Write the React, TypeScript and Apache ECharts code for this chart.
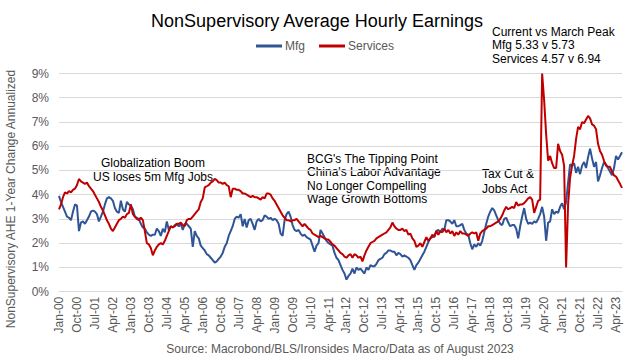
import React, { useEffect, useRef } from "react";
import * as echarts from "echarts";

const YEARS = [2000, 2001, 2002, 2003, 2004, 2005, 2006, 2007, 2008, 2009, 2010, 2011, 2012, 2013, 2014, 2015, 2016, 2017, 2018, 2019, 2020, 2021, 2022, 2023];
const MONTHS = ["Jan", "Feb", "Mar", "Apr", "May", "Jun", "Jul", "Aug", "Sep", "Oct", "Nov", "Dec"];
const LAST_MONTH_2023 = 7; // data through Jul-23

const mfgValues = [
  3.95, 3.7, 3.5, 3.3, 3.1, 3.05, 2.95, 3.3, 3.6, 3.55, 2.5, 2.85,
  2.9, 2.8, 2.95, 3.1, 3.3, 3.35, 3.3, 3.2, 2.9, 3.1, 3.3, 3.6,
  3.85, 3.9, 3.85, 3.75, 3.45, 3.3, 3.25, 3.75, 3.4, 3.3, 3.7, 3.6,
  3.55, 3.4, 3.1, 3.05, 3.0, 2.8, 2.65, 2.6, 2.45, 2.35, 2.3, 2.35,
  2.35, 2.6, 2.5, 2.3, 2.6, 2.45, 2.9, 2.55, 2.7, 2.65, 2.75, 2.8,
  2.7, 2.8, 2.55, 2.8, 2.8, 2.7, 2.6, 1.85, 2.5, 2.3, 2.2, 1.9,
  1.8, 1.7, 1.55, 1.5, 1.4, 1.3, 1.2, 1.25, 1.35, 1.45, 1.6, 1.85,
  2.0, 2.3, 2.5, 2.7, 3.0, 3.1, 3.05, 3.2, 2.7, 3.0, 2.65, 2.95,
  3.0, 2.8, 2.55, 2.9, 3.0, 2.9, 2.95, 3.15, 3.1, 3.0, 3.05, 2.95,
  3.0, 2.95, 2.8, 2.4, 2.3, 2.95, 3.2, 3.3, 3.1, 2.75, 2.55, 2.5,
  2.55, 2.4, 2.3, 2.35, 2.25, 2.2, 2.15, 1.9, 1.65, 1.9, 2.0, 2.55,
  2.4, 2.25, 2.1, 2.0, 1.95, 1.9, 1.6, 1.4, 1.3, 1.1, 0.9, 0.75,
  0.5, 0.65, 0.75, 0.95, 0.75, 1.0, 0.9, 0.95, 0.85, 0.75, 1.0, 0.9,
  1.1, 1.05, 1.05, 1.15, 1.3, 1.35, 1.4, 1.55, 1.6, 1.7, 1.7, 1.65,
  1.65, 1.5, 1.6, 1.55, 1.45, 1.5, 1.45, 1.4, 1.3, 1.1, 0.9, 1.1,
  1.2, 1.35, 1.5, 1.65, 1.85, 2.05, 2.2, 2.25, 2.3, 2.5, 2.55, 2.45,
  2.6, 2.55, 2.95, 2.95, 2.9, 2.8, 2.95, 2.7, 2.7, 2.75, 2.8, 2.55,
  2.4, 2.35, 2.0, 1.75, 1.95, 1.85, 2.0, 1.9, 2.1, 2.45, 2.8, 3.1,
  3.3, 3.45, 3.35, 3.15, 2.95, 2.8, 2.75, 3.0, 3.05, 2.85, 2.7, 2.75,
  2.75, 2.6, 2.2, 2.7, 3.1, 3.45, 3.0, 2.8, 2.85, 2.8, 2.9, 2.85,
  3.0, 3.2, 3.5, 3.1, 2.1, 2.85, 2.9, 3.4, 3.2, 3.3, 3.25, 3.5,
  3.65, 3.4, 3.7, 4.5, 5.25, 5.2, 5.3, 4.9, 5.15, 4.85, 5.2, 5.35,
  5.1, 5.55, 5.9, 5.5, 5.15, 5.35, 4.55, 4.8, 5.1, 5.35, 5.25, 5.1,
  4.95, 4.8, 5.1, 5.6, 5.45, 5.6, 5.75,
];

const servicesValues = [
  3.4, 3.6, 3.9, 4.1, 4.05, 4.15, 4.1, 4.2, 4.25, 4.4, 4.65, 4.55,
  4.5, 4.45, 4.5, 4.35, 4.25, 4.15, 4.0, 3.85, 3.7, 3.5, 3.35, 3.15,
  2.95, 2.8, 2.6, 2.5, 2.65, 2.8, 2.95, 3.0, 3.1, 3.05, 3.2, 3.25,
  3.6, 3.2, 3.1, 3.0, 2.95, 3.05, 2.95, 2.5, 2.0, 1.95, 1.8, 1.5,
  1.7, 1.85, 1.95, 2.0, 1.95, 2.1, 2.3, 2.5, 2.7, 2.65, 2.7, 2.8,
  2.8, 2.85, 2.75, 2.7, 2.95, 3.0, 3.0, 3.1, 3.2, 3.3, 3.4, 3.7,
  3.85, 4.3, 4.35, 4.4, 4.5, 4.55, 4.65, 4.6, 4.5, 4.5, 4.45, 4.5,
  4.4, 4.35, 3.9, 4.25, 4.25, 4.2, 4.2, 4.15, 4.05, 4.05, 4.0, 3.95,
  3.9, 3.95, 3.9, 3.9, 3.85, 3.8, 3.9, 3.85, 4.05, 4.05, 4.0, 3.85,
  3.75, 3.6, 3.45, 3.3, 3.15, 3.05, 2.95, 2.95, 2.9, 2.95, 2.95, 3.0,
  2.9, 2.8, 2.7, 2.8, 2.7, 2.6, 2.55, 2.4, 2.35, 2.3, 2.25, 2.3,
  2.25, 2.2, 2.15, 2.15, 2.05, 1.95, 1.9, 1.8, 1.7, 1.6, 1.55, 1.45,
  1.4, 1.5, 1.55, 1.4, 1.55, 1.5, 1.4, 1.45, 1.25, 1.5, 1.7, 1.85,
  2.0, 2.05, 2.1, 2.2, 2.25, 2.3, 2.35, 2.4, 2.45, 2.55, 2.65, 2.85,
  2.7, 2.6, 2.55, 2.55, 2.6, 2.5, 2.55, 2.35, 2.4, 2.2, 2.1, 1.85,
  1.9, 2.0, 1.85, 2.05, 2.25, 2.1, 2.2, 2.35, 2.25, 2.5, 2.35, 2.5,
  2.45, 2.6, 2.45, 2.55, 2.4, 2.5, 2.3, 2.45, 2.35, 2.5, 2.4, 2.4,
  2.35, 2.3, 2.4, 2.45, 2.4, 2.45, 2.1, 2.4, 2.5, 2.55, 2.6, 2.7,
  2.7, 2.75, 2.8, 2.85, 2.9, 3.0, 3.15, 3.35, 3.5, 3.4, 3.45, 3.5,
  3.45, 3.7, 3.55, 3.6, 3.6, 3.65, 3.75, 3.85, 3.9, 3.8, 3.25, 3.5,
  3.75, 3.8, 9.0, 7.9, 6.5, 5.4, 5.6, 5.3, 5.1, 5.1, 6.1, 5.8,
  5.65, 5.2, 1.0, 3.6, 4.7, 5.2, 5.6, 6.3, 6.8, 6.7, 7.0, 6.95,
  7.1, 7.25, 7.15, 6.9, 6.85, 6.7, 6.1, 5.8, 5.65, 5.4, 5.2, 5.15,
  5.15, 4.95, 4.8, 4.75, 4.6, 4.45, 4.28,
];

const yTicks = [0, 1, 2, 3, 4, 5, 6, 7, 8, 9];

const categories: string[] = [];
YEARS.forEach((y) => {
  MONTHS.forEach((m, i) => {
    if (y === 2023 && i >= LAST_MONTH_2023) return;
    categories.push(`${m}-${String(y).slice(2)}`);
  });
});

const FONT = '"Liberation Sans", Arial, sans-serif';
const GREY = "#595959";

export default function App() {
  const ref = useRef<HTMLDivElement>(null);
  useEffect(() => {
    document.body.style.margin = "0";
    const chart = echarts.init(ref.current!, undefined, { renderer: "svg" });
    chart.setOption({
      animation: false,
      backgroundColor: "#ffffff",
      textStyle: { fontFamily: FONT },
      title: {
        text: "NonSupervisory Average Hourly Earnings",
        left: "center",
        top: 7,
        textStyle: { fontSize: 18, fontWeight: "normal", color: "#000000", fontFamily: FONT },
      },
      legend: {
        left: 251,
        top: 35,
        itemWidth: 26,
        itemHeight: 3,
        itemGap: 14,
        icon: "rect",
        textStyle: { fontSize: 12, color: GREY, fontFamily: FONT, padding: [0, 0, 0, -2] },
        data: ["Mfg", "Services"],
      },
      grid: { left: 59, right: 12, top: 73.5, bottom: 68.3, containLabel: false },
      xAxis: {
        type: "category",
        data: categories,
        boundaryGap: false,
        axisLine: { lineStyle: { color: "#d9d9d9" } },
        axisTick: { show: false },
        axisLabel: { interval: 8, rotate: 90, fontSize: 12, color: GREY, fontFamily: FONT, margin: 5 },
        splitLine: { show: false },
      },
      yAxis: {
        type: "value",
        min: yTicks[0],
        max: yTicks[yTicks.length - 1],
        interval: 1,
        axisLine: { show: false },
        axisTick: { show: false },
        axisLabel: { formatter: "{value}%", fontSize: 12, color: GREY, fontFamily: FONT, margin: 10 },
        splitLine: { lineStyle: { color: "#d9d9d9", width: 1 } },
      },
      series: [
        {
          name: "Mfg",
          type: "line",
          data: mfgValues,
          showSymbol: false,
          color: "#2F5597",
          lineStyle: { width: 2, color: "#2F5597" },
        },
        {
          name: "Services",
          type: "line",
          data: servicesValues,
          showSymbol: false,
          color: "#C00000",
          lineStyle: { width: 2, color: "#C00000" },
        },
      ],
      graphic: [
        {
          type: "text",
          x: 11,
          y: 199,
          rotation: Math.PI / 2,
          style: {
            text: "NonSupervisory AHE 1-Year Change Annualized",
            fill: GREY,
            fontSize: 12,
            fontFamily: FONT,
            align: "center",
            verticalAlign: "middle",
          },
        },
        {
          type: "text",
          x: 492,
          y: 25,
          style: {
            text: "Current vs March Peak\nMfg 5.33 v 5.73\nServices 4.57 v 6.94",
            fill: "#000000",
            fontSize: 12,
            fontFamily: FONT,
            lineHeight: 13.5,
            align: "left",
            verticalAlign: "top",
          },
        },
        {
          type: "text",
          x: 153,
          y: 155.5,
          style: {
            text: "Globalization Boom\nUS loses 5m Mfg Jobs",
            fill: "#000000",
            fontSize: 12,
            fontFamily: FONT,
            lineHeight: 14,
            align: "center",
            verticalAlign: "top",
          },
        },
        {
          type: "text",
          x: 307,
          y: 152,
          style: {
            text: "BCG's The Tipping Point\nChina's Labor Advantage\nNo Longer Compelling\nWage Growth Bottoms",
            fill: "#000000",
            fontSize: 12,
            fontFamily: FONT,
            lineHeight: 13.5,
            align: "left",
            verticalAlign: "top",
          },
        },
        {
          type: "text",
          x: 482,
          y: 167,
          style: {
            text: "Tax Cut &\nJobs Act",
            fill: "#000000",
            fontSize: 12,
            fontFamily: FONT,
            lineHeight: 14.5,
            align: "left",
            verticalAlign: "top",
          },
        },
        {
          type: "text",
          x: 340,
          y: 349,
          style: {
            text: "Source: Macrobond/BLS/Ironsides Macro/Data as of August 2023",
            fill: GREY,
            fontSize: 12,
            fontFamily: FONT,
            align: "center",
            verticalAlign: "middle",
          },
        },
      ],
    });
    return () => chart.dispose();
  }, []);
  return (
    <div
      ref={ref}
      style={{ position: "fixed", left: 0, top: 0, width: 634, height: 360, background: "#fff" }}
    />
  );
}
